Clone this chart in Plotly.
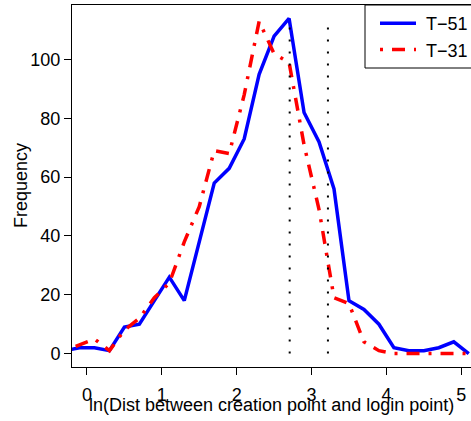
import plotly.graph_objects as go

# Bin centres (ln of distance)
x_bins = [-0.3, -0.1, 0.1, 0.3, 0.5, 0.7, 0.9, 1.1, 1.3, 1.5, 1.7, 1.9, 2.1, 2.3,
          2.5, 2.7, 2.9, 3.1, 3.3, 3.5, 3.7, 3.9, 4.1, 4.3, 4.5, 4.7, 4.9, 5.1]
freq_t51 = [1, 2, 2, 1, 9, 10, 18, 26, 18, 38, 58, 63, 73, 95,
            108, 114, 82, 72, 56, 18, 15, 10, 2, 1, 1, 2, 4, 0]
freq_t31 = [1, 3, 5, 1, 8, 12, 19, 24, 38, 50, 69, 68, 88, 113,
            102, 99, 71, 49, 19, 17, 4, 1, 0, 0, 0, 0, 0, 0]
ref_x = [2.708, 3.219]
ref_top = 114
x_ticks = [0, 1, 2, 3, 4, 5]
y_ticks = [0, 20, 40, 60, 80, 100]
series_names = ["T\u221251", "T\u221231"]

FONT = "Liberation Sans, Arial, sans-serif"
FS = 18
W, H = 471, 421
L, R, T, B = 72, 0, 5, 54
PW, PH = W - L - R, H - T - B


def px_x(p):
    return (p - L) / PW


def px_y(p):
    return (H - B - p) / PH


fig = go.Figure()
fig.add_trace(go.Scatter(x=x_bins, y=freq_t51, mode="lines", name="\u00a0" + series_names[0],
                         line=dict(color="#0000ff", width=3.5)))
fig.add_trace(go.Scatter(x=x_bins, y=freq_t31, mode="lines", name="\u00a0" + series_names[1],
                         line=dict(color="#ff0000", width=3.5, dash="3px,9px,13px,9px")))
for xv in ref_x:
    fig.add_trace(go.Scatter(x=[xv, xv], y=[0, ref_top], mode="lines", showlegend=False,
                             line=dict(color="black", width=2, dash="2px,10px")))

fig.update_layout(
    width=W, height=H,
    margin=dict(l=L, r=R, t=T, b=B, autoexpand=False),
    paper_bgcolor="white", plot_bgcolor="white",
    font=dict(family=FONT, size=FS, color="black"),
    showlegend=True,
    legend=dict(x=px_x(375), y=1, xanchor="left", yanchor="top",
                borderwidth=0, bgcolor="rgba(0,0,0,0)",
                font=dict(family=FONT, size=FS, color="black"),
                itemwidth=36, tracegroupgap=0),
    shapes=[dict(type="rect", xref="paper", yref="paper",
                 x0=px_x(365), x1=px_x(W + 5), y0=px_y(68), y1=1,
                 line=dict(color="black", width=1), fillcolor="white", layer="below")],
    xaxis=dict(range=[-0.2, 5.13], tickvals=x_ticks, ticks="outside", ticklen=7,
               tickcolor="black", showline=True, linecolor="black", linewidth=1,
               mirror=True, showgrid=False, zeroline=False, ticklabelstandoff=4),
    yaxis=dict(range=[-4.56, 118.56], tickvals=y_ticks, ticks="outside", ticklen=7,
               tickcolor="black", showline=True, linecolor="black", linewidth=1,
               showgrid=False, zeroline=False),
    annotations=[
        dict(text="ln(Dist between creation point and login point)", xref="paper", yref="paper",
             x=0.5, y=px_y(405), xanchor="center", yanchor="middle",
             showarrow=False, font=dict(family=FONT, size=FS, color="black")),
        dict(text="Frequency", xref="paper", yref="paper", textangle=-90,
             x=px_x(21), y=0.5, xanchor="center", yanchor="middle",
             showarrow=False, font=dict(family=FONT, size=FS, color="black")),
    ],
)

fig.write_html("out.html", config={"displayModeBar": False},
               post_script="document.body.style.margin='0';document.body.style.overflow='hidden';")
